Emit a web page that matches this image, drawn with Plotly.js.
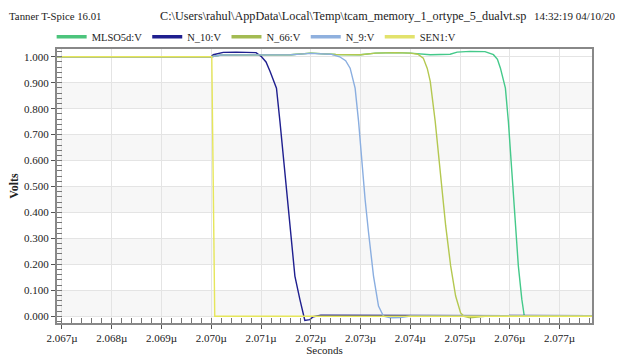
<!DOCTYPE html>
<html>
<head>
<meta charset="utf-8">
<script src="https://cdn.plot.ly/plotly-3.0.1.min.js"></script>
<style>html,body{margin:0;padding:0;background:#fff;}#chart{width:622px;height:361px;}</style>
</head>
<body>
<div id="chart"></div>
<script>
// ---- data (time in microseconds, voltage in volts) ----
const seriesNames = ["MLSO5d:V", "N_10:V", "N_66:V", "N_9:V", "SEN1:V"];

const tMLSO = [2.0669, 2.0700, 2.0702, 2.0716, 2.0720, 2.0725, 2.0730, 2.0733, 2.0737, 2.0740, 2.0744, 2.0748, 2.07494, 2.0752, 2.0755, 2.07567, 2.07575, 2.07581, 2.07591, 2.07597, 2.07604, 2.07611, 2.07617, 2.07624, 2.07629, 2.0765, 2.0770, 2.07765];
const vMLSO = [1.000, 1.000, 1.007, 1.008, 1.014, 1.009, 1.008, 1.014, 1.016, 1.014, 1.008, 1.010, 1.018, 1.021, 1.020, 1.008, 0.990, 0.956, 0.879, 0.750, 0.556, 0.362, 0.194, 0.065, 0.000, 0.001, 0.002, 0.002];

const tN10 = [2.0669, 2.0700, 2.07004, 2.07024, 2.0705, 2.0709, 2.07101, 2.07110, 2.07118, 2.07131, 2.07138, 2.07145, 2.07153, 2.07162, 2.07168, 2.07178, 2.07188, 2.07198, 2.07205, 2.0722, 2.0728, 2.0740, 2.0750, 2.0760, 2.07765];
const vN10 = [1.000, 1.000, 1.008, 1.017, 1.018, 1.016, 1.000, 0.980, 0.944, 0.879, 0.750, 0.607, 0.452, 0.284, 0.155, 0.065, -0.016, -0.013, -0.002, 0.004, 0.004, 0.003, 0.002, 0.002, 0.002];

const tN66 = [2.0669, 2.0700, 2.0702, 2.0716, 2.0720, 2.0725, 2.0730, 2.0733, 2.0737, 2.0740, 2.07415, 2.07426, 2.07434, 2.0744, 2.0745, 2.0746, 2.07471, 2.07481, 2.07491, 2.07501, 2.07508, 2.0752, 2.0755, 2.0760, 2.07765];
const vN66 = [1.000, 1.000, 1.007, 1.008, 1.014, 1.009, 1.008, 1.014, 1.016, 1.014, 1.010, 0.995, 0.955, 0.905, 0.750, 0.556, 0.349, 0.194, 0.078, 0.013, 0.000, -0.006, 0.000, 0.002, 0.002];

const tN9 = [2.0669, 2.0700, 2.0702, 2.0716, 2.0720, 2.0724, 2.07258, 2.07270, 2.07279, 2.07289, 2.07296, 2.07302, 2.07309, 2.07316, 2.07326, 2.07336, 2.07346, 2.0736, 2.0738, 2.0740, 2.0750, 2.07765];
const vN9 = [1.000, 1.000, 1.007, 1.008, 1.013, 1.010, 1.000, 0.985, 0.956, 0.879, 0.750, 0.607, 0.452, 0.323, 0.155, 0.039, 0.000, -0.006, -0.005, 0.001, 0.001, 0.001];

const tSEN1 = [2.0669, 2.07001, 2.07004, 2.07007, 2.07765];
const vSEN1 = [1.000, 1.000, 0.500, 0.000, 0.000];

const xTicks = [2.067, 2.068, 2.069, 2.070, 2.071, 2.072, 2.073, 2.074, 2.075, 2.076, 2.077];
const xTickLabels = ["2.067µ", "2.068µ", "2.069µ", "2.070µ", "2.071µ", "2.072µ", "2.073µ", "2.074µ", "2.075µ", "2.076µ", "2.077µ"];
const yTicks = [0.0, 0.1, 0.2, 0.3, 0.4, 0.5, 0.6, 0.7, 0.8, 0.9, 1.0];

const headerLeft = "Tanner T-Spice 16.01";
const headerMid = "C:\\Users\\rahul\\AppData\\Local\\Temp\\tcam_memory_1_ortype_5_dualvt.sp";
const headerRight = "14:32:19 04/10/20";

// ---- styling ----
const colors = ["#44c98a", "#1f1f8f", "#b4c850", "#8aaee0", "#e6e65a"];
const legendColors = ["#4cc47c", "#1f1f8f", "#a3bb52", "#8fb0de", "#e2e26c"];
const xs = [tMLSO, tN10, tN66, tN9, tSEN1];
const ys = [vMLSO, vN10, vN66, vN9, vSEN1];

const serif = '"Liberation Serif", "DejaVu Serif", serif';
const traces = [];
for (let i = 0; i < seriesNames.length; i++) {
  traces.push({
    x: xs[i], y: ys[i], type: "scatter", mode: "lines",
    name: seriesNames[i], showlegend: false,
    line: {color: colors[i], width: 1.4, shape: "linear"},
    hoverinfo: "skip"
  });
}
// legend entries (thicker sample lines, no drawn marks)
for (let i = 0; i < seriesNames.length; i++) {
  traces.push({
    x: [null], y: [null], type: "scatter", mode: "lines",
    name: seriesNames[i], showlegend: true,
    line: {color: legendColors[i], width: 3.5}
  });
}

// alternating light bands between y gridlines
const shapes = [];
for (let i = 0; i < yTicks.length - 1; i += 2) {
  shapes.push({type: "rect", xref: "paper", yref: "y", x0: 0, x1: 1,
    y0: yTicks[i], y1: yTicks[i + 1], fillcolor: "#f7f7f7", line: {width: 0}, layer: "below"});
}

const layout = {
  width: 622, height: 361,
  margin: {l: 57, r: 30, t: 49, b: 38, pad: 0},
  paper_bgcolor: "#ffffff", plot_bgcolor: "#ffffff",
  font: {family: serif, size: 11, color: "#222"},
  showlegend: true,
  legend: {orientation: "h", x: -0.01, xanchor: "left", y: 1.045, yanchor: "middle",
    font: {family: serif, size: 10.5, color: "#222"}, bgcolor: "rgba(0,0,0,0)", traceorder: "normal"},
  xaxis: {
    range: [2.0669, 2.07765], tickvals: xTicks, ticktext: xTickLabels,
    showgrid: true, gridcolor: "#e4e4e4", gridwidth: 1, zeroline: false,
    ticks: "outside", ticklen: 4, tickcolor: "#555", tickwidth: 1,
    minor: {dtick: 0.0002, ticks: "inside", ticklen: 5, tickcolor: "#777", showgrid: false},
    showline: true, linecolor: "#888", linewidth: 2, mirror: true,
    tickfont: {family: serif, size: 11, color: "#222"},
    title: {text: "Seconds", font: {family: serif, size: 11, color: "#222"}, standoff: 3}
  },
  yaxis: {
    range: [-0.026, 1.030], tickvals: yTicks, tickformat: ".3f",
    showgrid: true, gridcolor: "#e4e4e4", gridwidth: 1, zeroline: false,
    ticks: "outside", ticklen: 4, tickcolor: "#555", tickwidth: 1,
    minor: {dtick: 0.02, ticks: "inside", ticklen: 5, tickcolor: "#777", showgrid: false},
    showline: true, linecolor: "#888", linewidth: 2, mirror: true,
    tickfont: {family: serif, size: 11, color: "#222"},
    title: {text: "<b>Volts</b>", font: {family: serif, size: 12, color: "#222"}, standoff: 3}
  },
  shapes: shapes,
  annotations: [
    {text: headerLeft, xref: "paper", yref: "paper", x: (7 - 57) / 535, y: (323 - 16) / 274, xanchor: "left", yanchor: "middle", showarrow: false, font: {family: serif, size: 10.8, color: "#222"}},
    {text: headerMid, xref: "paper", yref: "paper", x: (158 - 57) / 535, y: (323 - 16) / 274, xanchor: "left", yanchor: "middle", showarrow: false, font: {family: serif, size: 12.2, color: "#222"}},
    {text: headerRight, xref: "paper", yref: "paper", x: (617 - 57) / 535, y: (323 - 16) / 274, xanchor: "right", yanchor: "middle", showarrow: false, font: {family: serif, size: 11, color: "#222"}}
  ]
};

Plotly.newPlot("chart", traces, layout, {staticPlot: true, displayModeBar: false});
</script>
</body>
</html>
